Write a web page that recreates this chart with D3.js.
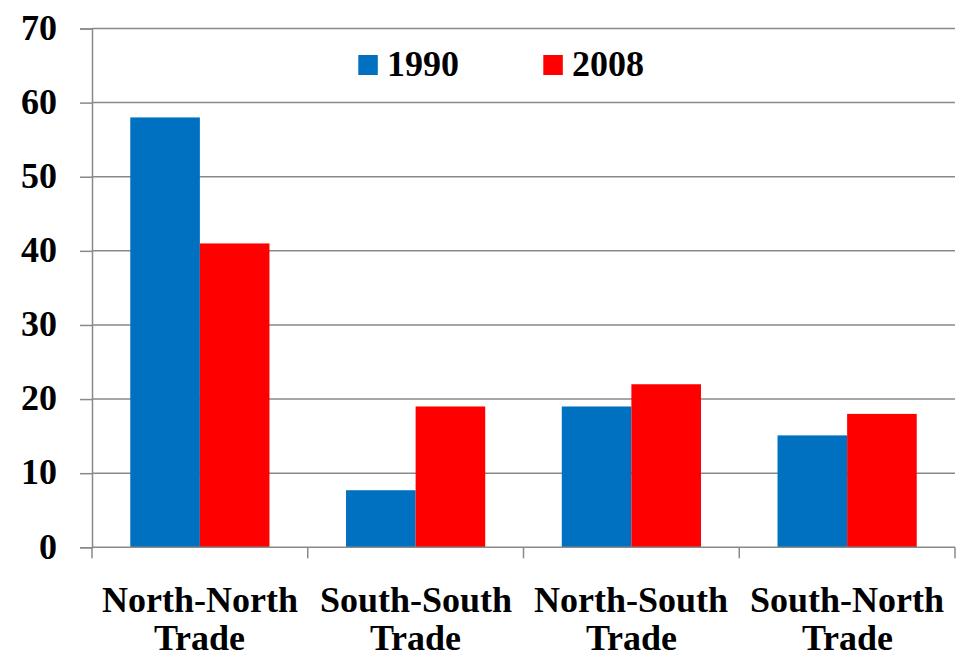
<!DOCTYPE html>
<html>
<head>
<meta charset="utf-8">
<script src="https://cdn.jsdelivr.net/npm/d3@7"></script>
<style>
  @font-face {
    font-family: "LabelSerif";
    src: local("Liberation Serif Bold"), local("LiberationSerif-Bold");
    font-weight: bold;
  }
</style>
</head>
<body style="margin:0; background:#fff">
<svg id="trade" width="964" height="657"></svg>
<script>
// Trade shares by direction (percent of world trade)
const categories = [["North-North", "Trade"], ["South-South", "Trade"], ["North-South", "Trade"], ["South-North", "Trade"]];
const seriesNames = ["1990", "2008"];
const values1990 = [58, 7.7, 19, 15.1];
const values2008 = [41, 19, 22, 18];
const yTicks = [0, 10, 20, 30, 40, 50, 60, 70];
const seriesColors = ["#0070C0", "#FF0000"];

const svg = d3.select("#trade");
const plot = { left: 92, right: 955, top: 28.5, bottom: 547.3 };
const gridColor = "#898989";
const FONT = "LabelSerif, 'Liberation Serif'";

function styleText(sel) {
  return sel.attr("font-family", FONT).attr("font-weight", "bold").attr("font-size", 36)
    .style("font-family", FONT).style("font-weight", "bold")
    .style("font-size", "36px").style("fill", "#000");
}

const catKeys = categories.map(c => c.join(" "));
const x = d3.scaleBand().domain(catKeys).range([plot.left, plot.right]).padding(0);
const xInner = d3.scaleBand().domain(seriesNames).range([0, x.bandwidth()])
  .paddingInner(0).paddingOuter(0.55);
const y = d3.scaleLinear().domain([0, 70]).range([plot.bottom, plot.top]);

// horizontal gridlines
svg.append("g").selectAll("line").data(yTicks.filter(t => t > 0)).join("line")
  .attr("x1", plot.left).attr("x2", plot.right)
  .attr("y1", d => y(d)).attr("y2", d => y(d))
  .attr("stroke", gridColor).attr("stroke-width", 1.5);

// bars
const rows = catKeys.map((k, i) => ({ key: k, vals: [values1990[i], values2008[i]] }));
const groups = svg.append("g").selectAll("g").data(rows).join("g")
  .attr("transform", d => `translate(${x(d.key)},0)`);
groups.selectAll("rect")
  .data(d => d.vals.map((v, j) => ({ name: seriesNames[j], value: v, color: seriesColors[j] })))
  .join("rect")
  .attr("x", d => xInner(d.name))
  .attr("width", xInner.bandwidth())
  .attr("y", d => y(d.value))
  .attr("height", d => y(0) - y(d.value))
  .attr("fill", d => d.color);

// y axis
const yAxis = svg.append("g").attr("transform", `translate(${plot.left},0)`)
  .call(d3.axisLeft(y).tickValues(yTicks).tickSize(12).tickPadding(23).tickFormat(d3.format("d")));
yAxis.attr("font-family", FONT).attr("font-size", 36);
yAxis.select(".domain").attr("stroke", gridColor).attr("stroke-width", 1.5);
yAxis.selectAll(".tick line").attr("stroke", gridColor).attr("stroke-width", 1.5);
styleText(yAxis.selectAll(".tick text")).attr("dy", "0.3em");

// x axis: baseline with ticks at category boundaries
const xAxisG = svg.append("g");
xAxisG.append("line")
  .attr("x1", plot.left).attr("x2", plot.right)
  .attr("y1", y(0)).attr("y2", y(0))
  .attr("stroke", gridColor).attr("stroke-width", 1.5);
const boundaries = catKeys.map(k => x(k)).concat([plot.right]);
xAxisG.selectAll("line.tick").data(boundaries).join("line")
  .attr("class", "tick")
  .attr("x1", d => d).attr("x2", d => d)
  .attr("y1", y(0)).attr("y2", y(0) + 11)
  .attr("stroke", gridColor).attr("stroke-width", 1.5);

// category labels (two lines)
const labels = styleText(xAxisG.selectAll("text.cat").data(categories).join("text")
  .attr("class", "cat")
  .attr("text-anchor", "middle"));
labels.each(function(d, i) {
  const cx = x(catKeys[i]) + x.bandwidth() / 2;
  d3.select(this).selectAll("tspan").data(d).join("tspan")
    .attr("x", cx)
    .attr("y", (t, j) => 611.5 + j * 38)
    .style("font-family", FONT)
    .text(t => t);
});

// legend
const legendItems = [
  { name: seriesNames[0], color: seriesColors[0], x: 358.3 },
  { name: seriesNames[1], color: seriesColors[1], x: 543.3 }
];
const legend = svg.append("g").selectAll("g").data(legendItems).join("g")
  .attr("transform", d => `translate(${d.x},55)`);
legend.append("rect").attr("width", 19.5).attr("height", 20).attr("fill", d => d.color);
styleText(legend.append("text").attr("x", 28.5).attr("y", 21)).text(d => d.name);
</script>
</body>
</html>
